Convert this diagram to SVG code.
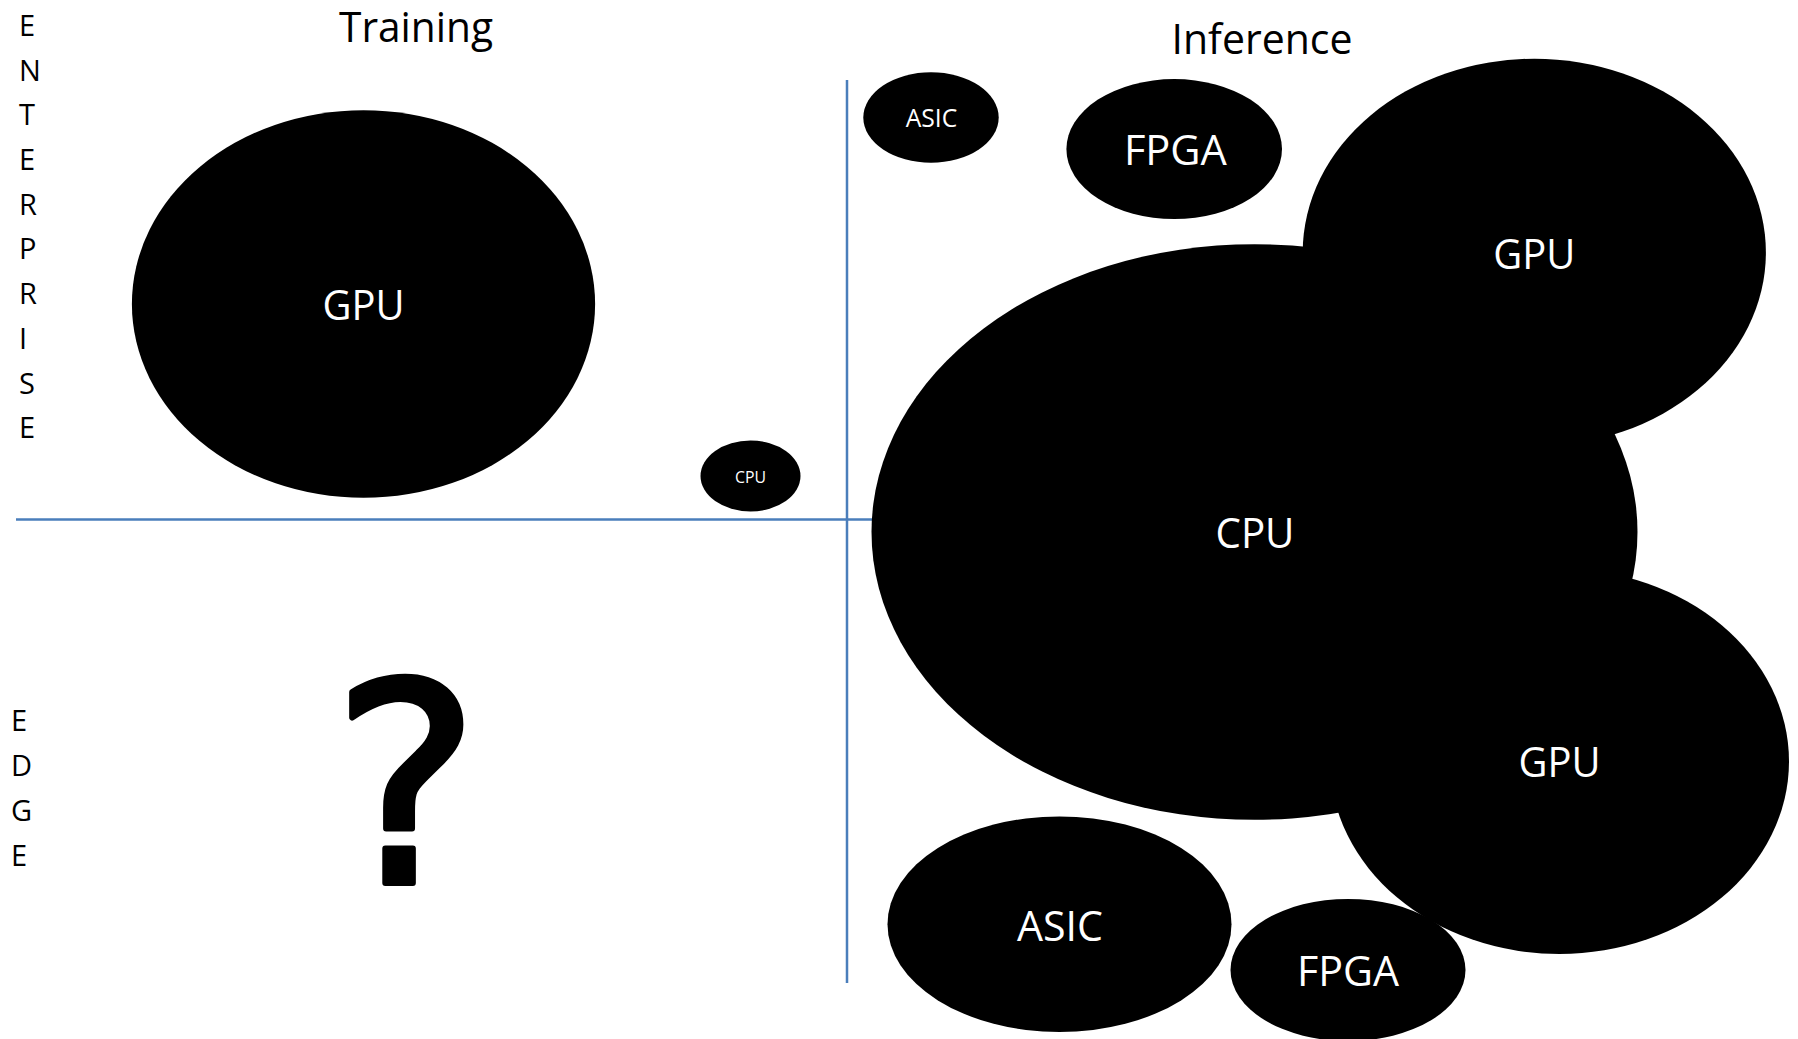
<svg xmlns="http://www.w3.org/2000/svg" width="1798" height="1039" viewBox="0 0 1798 1039">
  <style>
    text { font-family: "Open Sans", "Noto Sans", "Liberation Sans", sans-serif; }
    .blob { fill: #000000; }
    .lbl { fill: #ffffff; text-anchor: middle; font-size: 42px; }
    .title { fill: #000000; text-anchor: middle; font-size: 42px; }
    .axis-letter { fill: #000000; font-size: 29px; }
    .axis { stroke: #4A7EBB; stroke-width: 2.5; fill: none; }
    .unknown { font-family: "DejaVu Sans", "Open Sans", sans-serif; font-size: 278px; text-anchor: middle; fill: #000000; stroke: #000000; stroke-width: 6; stroke-linejoin: round; }
  </style>
  <rect x="0" y="0" width="1798" height="1039" fill="#ffffff"/>

  <!-- column headings -->
  <g id="heading-training">
    <text class="title" x="416" y="42" textLength="154" lengthAdjust="spacingAndGlyphs">Training</text>
  </g>
  <g id="heading-inference">
    <text class="title" x="1262" y="54" textLength="181" lengthAdjust="spacingAndGlyphs">Inference</text>
  </g>

  <!-- row headings, one letter per line -->
  <g id="row-enterprise" class="axis-letter">
    <text x="19" y="36">E</text>
    <text x="19" y="81">N</text>
    <text x="19" y="125">T</text>
    <text x="19" y="170">E</text>
    <text x="19" y="215">R</text>
    <text x="19" y="259">P</text>
    <text x="19" y="304">R</text>
    <text x="19" y="349">I</text>
    <text x="19" y="394">S</text>
    <text x="19" y="438">E</text>
  </g>
  <g id="row-edge" class="axis-letter">
    <text x="11" y="731">E</text>
    <text x="11" y="776">D</text>
    <text x="11" y="821">G</text>
    <text x="11" y="866">E</text>
  </g>

  <!-- quadrant dividers -->
  <g id="connectors">
    <line class="axis" x1="16" y1="519.5" x2="900" y2="519.5"/>
    <line class="axis" x1="847" y1="80" x2="847" y2="983"/>
  </g>

  <!-- training / enterprise -->
  <g id="train-gpu">
    <ellipse class="blob" cx="363.5" cy="304" rx="231.6" ry="193.8"/>
    <text class="lbl" x="363.5" y="320" textLength="82" lengthAdjust="spacingAndGlyphs">GPU</text>
  </g>
  <g id="train-cpu">
    <ellipse class="blob" cx="750.5" cy="476" rx="50" ry="35.5"/>
    <text class="lbl" x="750.5" y="483" style="font-size:16px" textLength="31" lengthAdjust="spacingAndGlyphs">CPU</text>
  </g>

  <!-- training / edge -->
  <g id="train-edge-unknown">
    <text class="unknown" x="406" y="883">?</text>
  </g>

  <!-- inference -->
  <g id="inf-asic-small">
    <ellipse class="blob" cx="931" cy="117.5" rx="67.7" ry="45.3"/>
    <text class="lbl" x="931.5" y="127" style="font-size:25px" textLength="51.6" lengthAdjust="spacingAndGlyphs">ASIC</text>
  </g>
  <g id="inf-fpga-top">
    <ellipse class="blob" cx="1174.2" cy="149.1" rx="107.8" ry="70"/>
    <text class="lbl" x="1175.4" y="165.3" textLength="103" lengthAdjust="spacingAndGlyphs">FPGA</text>
  </g>
  <g id="inf-gpu-top">
    <ellipse class="blob" cx="1534.3" cy="252.5" rx="231.6" ry="193.8"/>
  </g>
  <g id="inf-cpu">
    <ellipse class="blob" cx="1254.5" cy="532" rx="383" ry="287.8"/>
  </g>
  <g id="inf-gpu-bottom">
    <ellipse class="blob" cx="1559.5" cy="761.4" rx="229.5" ry="192.6"/>
  </g>
  <g id="inf-asic-bottom">
    <ellipse class="blob" cx="1059.5" cy="924.2" rx="172" ry="107.8"/>
    <text class="lbl" x="1060" y="940.5" textLength="86" lengthAdjust="spacingAndGlyphs">ASIC</text>
  </g>
  <g id="inf-fpga-bottom">
    <ellipse class="blob" cx="1348" cy="970" rx="117.5" ry="71.1"/>
    <text class="lbl" x="1348" y="986.3" textLength="102" lengthAdjust="spacingAndGlyphs">FPGA</text>
  </g>

  <!-- labels of the overlapping inference blobs -->
  <g id="inf-labels">
    <text class="lbl" x="1534.3" y="268.5" textLength="82" lengthAdjust="spacingAndGlyphs">GPU</text>
    <text class="lbl" x="1255" y="548.3" textLength="79" lengthAdjust="spacingAndGlyphs">CPU</text>
    <text class="lbl" x="1559.5" y="776.5" textLength="82" lengthAdjust="spacingAndGlyphs">GPU</text>
  </g>
</svg>
